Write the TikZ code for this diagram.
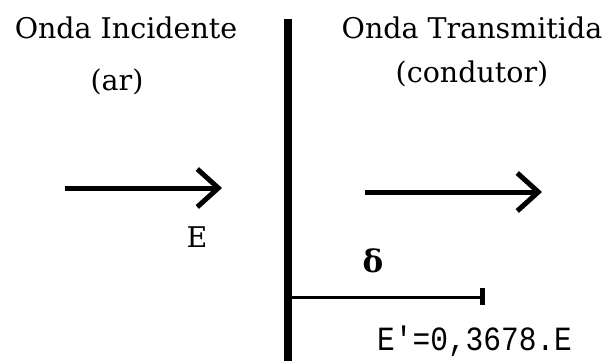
\documentclass[tikz,border=0pt]{standalone}
\usepackage{fontspec}
\setmainfont{DejaVu Serif}
\setmonofont{Liberation Mono}
\usetikzlibrary{arrows.meta}
\pgfdeclarelayer{edgelayer}
\pgfdeclarelayer{nodelayer}
\pgfsetlayers{edgelayer,nodelayer,main}
\tikzstyle{wave}=[draw=black, line width=5pt, -{Straight Barb[length=21pt, width=38pt, line width=5pt]}]
\tikzstyle{wall}=[draw=black, line width=7.5pt]
\tikzstyle{depth}=[draw=black, line width=3pt]
\tikzstyle{endmark}=[draw=black, line width=5pt]
\tikzstyle{caption}=[anchor=base, inner sep=0pt, font=\fontsize{28.5}{32}\selectfont]

\begin{document}
\begin{tikzpicture}[x=1pt, y=-1pt]
						\useasboundingbox (0, 0) rectangle (610, 360);
						\begin{pgfonlayer}{nodelayer}
							\node [style=caption] (inc) at (126, 38) {Onda Incidente};
							\node [style=caption] (ar) at (117, 90) {(ar)};
							\node [style=caption] (trans) at (472, 38) {Onda Transmitida};
							\node [style=caption] (cond) at (472, 82) {(condutor)};
							\node [style=caption] (e) at (197, 247) {E};
							\node [style=caption, font=\bfseries\fontsize{31}{32}\selectfont] (delta) at (373, 272) {δ};
							\node [style=caption, anchor=base west, font=\ttfamily\fontsize{29.5}{32}\selectfont] (eprime) at (377, 350) {\scalebox{1}[1.15]{E'=0,3678.E}};
							\coordinate (wtop) at (288, 19);
							\coordinate (wbot) at (288, 362);
							\coordinate (wmid) at (288, 297);
							\coordinate (dend) at (482, 297);
							\coordinate (dup) at (482, 288);
							\coordinate (ddown) at (482, 305);
							\coordinate (a1) at (65, 188);
							\coordinate (a2) at (222, 188);
							\coordinate (b1) at (365, 192);
							\coordinate (b2) at (542, 192);
						\end{pgfonlayer}
						\begin{pgfonlayer}{edgelayer}
							\draw [style=wall] (wtop) to (wbot);
							\draw [style=depth] (wmid) to (dend);
							\draw [style=endmark] (dup) to (ddown);
							\draw [style=wave] (a1) to (a2);
							\draw [style=wave] (b1) to (b2);
						\end{pgfonlayer}
					\end{tikzpicture}
\end{document}
